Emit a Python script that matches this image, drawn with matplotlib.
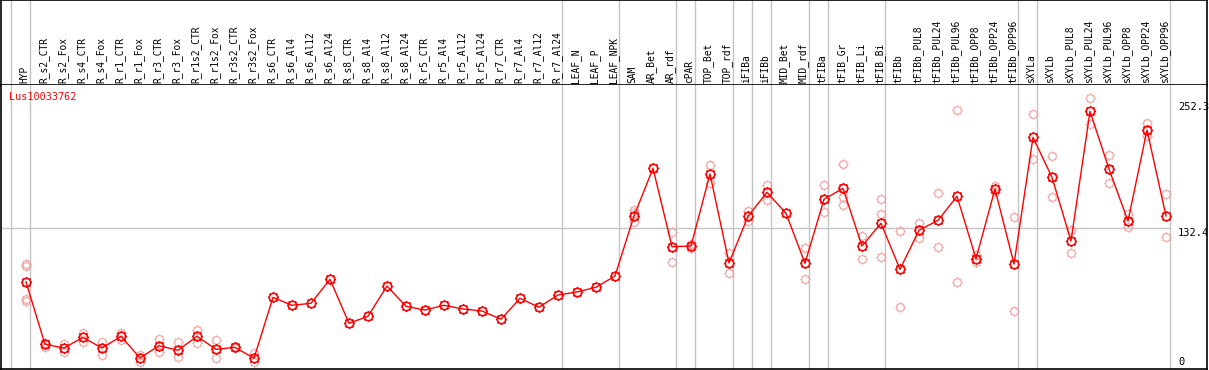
import numpy as np
import matplotlib
matplotlib.use("Agg")
import matplotlib.pyplot as plt
import matplotlib.transforms as mtransforms
from matplotlib.path import Path

# sample names (x axis, drawn as rotated header)
samples = ["HYP",
           "R_s2_CTR", "R_s2_Fox", "R_s4_CTR", "R_s4_Fox", "R_r1_CTR", "R_r1_Fox",
           "R_r3_CTR", "R_r3_Fox", "R_r1s2_CTR", "R_r1s2_Fox", "R_r3s2_CTR", "R_r3s2_Fox",
           "R_s6_CTR", "R_s6_Al4", "R_s6_Al12", "R_s6_Al24",
           "R_s8_CTR", "R_s8_Al4", "R_s8_Al12", "R_s8_Al24",
           "R_r5_CTR", "R_r5_Al4", "R_r5_Al12", "R_r5_Al24",
           "R_r7_CTR", "R_r7_Al4", "R_r7_Al12", "R_r7_Al24",
           "LEAF_N", "LEAF_P", "LEAF_NPK",
           "SAM", "AR_Bet", "AR_rdf", "cPAR", "TOP_Bet", "TOP_rdf", "iFIBa", "iFIBb",
           "MID_Bet", "MID_rdf", "tFIBa", "tFIB_Gr", "tFIB_Li", "tFIB_Bi", "tFIBb",
           "tFIBb_PUL8", "tFIBb_PUL24", "tFIBb_PUL96", "tFIBb_OPP8", "tFIBb_OPP24", "tFIBb_OPP96",
           "sXYLa", "sXYLb",
           "sXYLb_PUL8", "sXYLb_PUL24", "sXYLb_PUL96", "sXYLb_OPP8", "sXYLb_OPP24", "sXYLb_OPP96"]

# mean expression per sample
means = [79.1,
         17.5, 13.8, 24.4, 13.8, 25.4, 4.0,
         16.1, 11.6, 25.4, 12.5, 14.5, 3.7,
         63.9, 56.0, 58.0, 81.7,
         38.2, 45.2, 75.1, 55.0,
         51.4, 56.0, 52.4, 50.4,
         42.2, 62.9, 54.1, 66.2,
         69.2, 73.8, 85.0,
         144.3, 191.4, 113.9, 114.6, 185.8, 97.8, 144.0, 167.7,
         146.9, 97.5, 160.8, 171.6, 114.6, 137.1, 91.6,
         130.1, 140.0, 163.7, 102.1, 170.9, 96.8,
         222.0, 182.5,
         119.6, 247.7, 190.7, 139.3, 229.2, 144.3]

# individual replicates per sample (empty = none shown)
replicates = [[96.8, 94.4, 62.5, 60.3],
              [18.8, 15.1], [17.8, 10.2], [28.4, 20.1], [19.8, 7.2], [29.0, 21.7], [7.2, 0.0],
              [22.7, 10.2], [19.8, 4.6], [31.6, 19.1], [21.4, 3.7], [15.1, 13.8], [8.6, 0.3],
              [], [], [], [],
              [], [], [], [],
              [], [], [], [],
              [], [], [], [],
              [], [], [],
              [150.2, 147.5, 138.6], [], [128.2, 98.5], [116.6, 112.4], [194.4, 176.6],
              [107.4, 87.6], [149.5, 139.6], [174.6, 159.8],
              [], [112.4, 81.7], [174.6, 147.9], [195.4, 163.3, 154.8], [124.5, 102.1],
              [160.8, 145.9, 103.5], [129.2, 54.1],
              [137.1, 122.8], [166.7, 113.3], [248.7, 78.8], [105.4, 99.1], [174.2, 168.3],
              [143.0, 50.1],
              [245.1, 200.9], [203.3, 162.7],
              [130.4, 107.4], [260.6, 234.9], [204.2, 176.6], [146.2, 133.1], [236.2, 223.6],
              [166.0, 123.5]]

# samples after which a group separator is drawn (-1 = before the first)
separators = [-1, 0, 28, 31, 34, 35, 37, 38, 39, 41, 42, 45, 52, 53, 60]
gene = "Lus10033762"
ymax_label, ymid, ymin_label = 252.3, 132.4, 0

W, H = 1209, 370
fig = plt.figure(figsize=(W / 100, H / 100), dpi=100)


def px_axes(left, top, right, bottom):
    return fig.add_axes([left / W, (H - bottom) / H, (right - left) / W, (bottom - top) / H])


ax_h = px_axes(1, 0, 1207, 85)
ax = px_axes(1, 85, 1207, 369)

x = np.arange(len(samples))
xlim = ((1 - 26) / 19, (1207 - 26) / 19)
for a in (ax_h, ax):
    a.set_xlim(*xlim)
    a.set_xticks([])
    a.set_yticks([])
    for s in a.spines.values():
        s.set_color("black")
        s.set_linewidth(1.2)
    for i in separators:
        a.axvline(i + 0.22, color="#c4c4c4", lw=1, zorder=0)
ax.spines["top"].set_visible(False)
ax.set_ylim(-7 / 1.012, 277 / 1.012)

# header labels
trans_h = mtransforms.blended_transform_factory(ax_h.transData, ax_h.transAxes)
for i, name in enumerate(samples):
    ax_h.text(i - 0.08, 2 / 85, name, rotation=90, ha="center", va="bottom",
              fontsize=6.9, family="DejaVu Sans Mono", transform=trans_h)

# marker: circle with small ticks
parts = [Path.unit_circle()]
for ang in np.arange(0, 360, 45):
    c, s = np.cos(np.radians(ang)), np.sin(np.radians(ang))
    parts.append(Path([(c, s), (1.35 * c, 1.35 * s)], [Path.MOVETO, Path.LINETO]))
gear = Path.make_compound_path(*parts)

ax.hlines(ymid, xlim[0], 60.22, color="#c4c4c4", lw=1, zorder=0)

rx = [i for i, r in enumerate(replicates) for _ in r]
ry = [v for r in replicates for v in r]
ax.plot(rx, ry, ls="none", marker=gear, ms=7.5, mfc="none", mec="#f2a4a4", mew=0.8, zorder=2)
ax.plot(x, means, color="red", lw=1, zorder=3)
ax.plot(x, means, ls="none", marker=gear, ms=8, mfc="none", mec="red", mew=1.1, zorder=4)

ax.text(-0.88, (369 - 97) / 284, gene, color="red", fontsize=7.3, family="DejaVu Sans Mono",
        va="center", ha="left", transform=mtransforms.blended_transform_factory(ax.transData, ax.transAxes))

lx = (1178 - 26) / 19
ax.text(lx, ymax_label, f"{ymax_label}", fontsize=7.5, family="DejaVu Sans Mono", va="center", ha="left")
ax.text(lx, ymid, f"{ymid}", fontsize=7.5, family="DejaVu Sans Mono", va="top", ha="left")
ax.text(lx, ymin_label, f"{ymin_label}", fontsize=7.5, family="DejaVu Sans Mono", va="center", ha="left")

fig.savefig("out.png", dpi=100)
